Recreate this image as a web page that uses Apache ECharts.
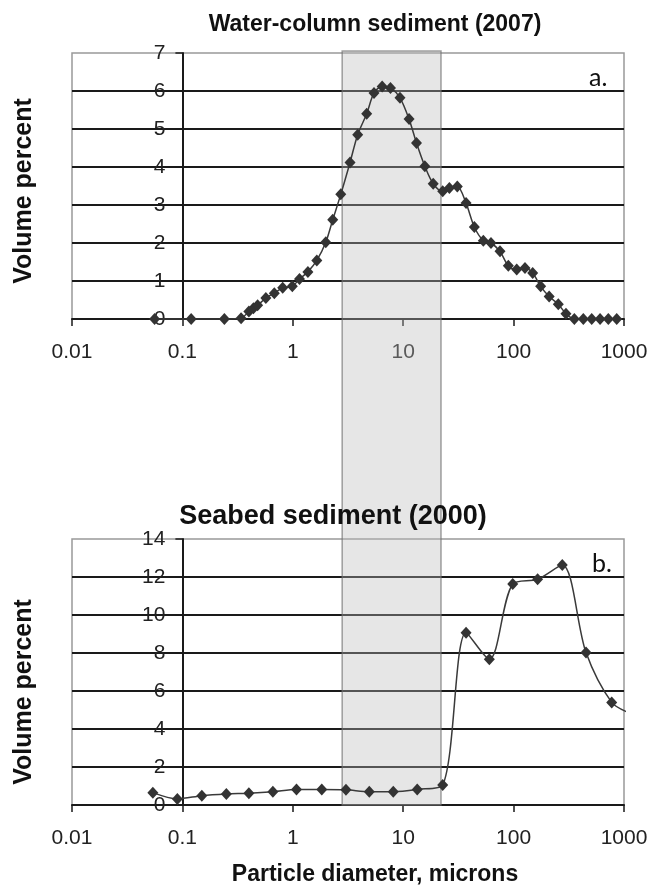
<!DOCTYPE html>
<html>
<head>
<meta charset="utf-8">
<script src="https://cdn.jsdelivr.net/npm/echarts@6/dist/echarts.min.js"></script>
<style>
  html, body { margin: 0; padding: 0; background: #fff; }
  #chart { width: 660px; height: 888px; }
</style>
</head>
<body>
<div id="chart"></div>
<script>
// Particle size distributions: volume percent in each size bin, diameter in microns.
const waterDiameters = [0.056, 0.12, 0.24, 0.34, 0.40, 0.44, 0.48, 0.57, 0.68, 0.81,
  0.99, 1.15, 1.37, 1.65, 1.99, 2.3, 2.72, 3.3, 3.87, 4.67,
  5.44, 6.45, 7.67, 9.35, 11.3, 13.2, 15.7, 18.7, 22.8, 26.2,
  30.9, 37.1, 44.1, 53.2, 62.4, 75.3, 89.6, 106.7, 126.8, 148.9,
  175.8, 210, 254, 298, 355, 428, 510, 607, 721, 859];
const waterVolume = [0, 0, 0, 0.02, 0.2, 0.28, 0.36, 0.55, 0.68, 0.82,
  0.86, 1.05, 1.24, 1.54, 2.02, 2.61, 3.28, 4.12, 4.85, 5.4,
  5.95, 6.12, 6.08, 5.82, 5.26, 4.63, 4.02, 3.56, 3.36, 3.45,
  3.49, 3.05, 2.42, 2.06, 2.0, 1.78, 1.40, 1.30, 1.34, 1.21,
  0.86, 0.59, 0.39, 0.14, 0, 0, 0, 0, 0, 0];

const seabedDiameters = [0.054, 0.09, 0.15, 0.25, 0.40, 0.66, 1.08, 1.83, 3.03, 4.93,
  8.13, 13.4, 22.8, 37.1, 60.3, 98.2, 165, 276, 453, 774, 1175];
const seabedVolume = [0.65, 0.32, 0.49, 0.58, 0.62, 0.70, 0.82, 0.82, 0.80, 0.70,
  0.70, 0.82, 1.05, 9.07, 7.67, 11.63, 11.88, 12.63, 8.02, 5.4, 4.8];

// Size range highlighted across both panels (microns)
const highlightRange = [2.8, 22];

const xTickLabels = ['0.01', '0.1', '1', '10', '100', '1000'];
const xRange = [0.01, 1000];
const yAxisCrossing = 0.1;   // vertical axis sits at this diameter

const FONT = 'Liberation Sans, Arial, sans-serif';
const INK = '#1a1a1a';
const gridLeft = 72, gridRight = 36;

function pairs(xs, ys, xMax) {
  return xs.map((x, i) => x > xMax
    ? { value: [x, ys[i]], symbol: 'none' }
    : [x, ys[i]]);
}

function logXAxis(gridIndex, extra) {
  return Object.assign({
    type: 'log', logBase: 10, gridIndex,
    min: xRange[0], max: xRange[1],
    axisLine: { show: true, lineStyle: { color: INK, width: 2 } },
    axisTick: { show: true, length: 7, lineStyle: { color: INK, width: 1.5 } },
    minorTick: { show: false },
    splitLine: { show: false },
    axisLabel: {
      fontFamily: FONT, fontSize: 21, color: '#222', margin: 23,
      formatter: v => {
        const k = Math.round(Math.log10(v)) + 2;
        return xTickLabels[k] !== undefined ? xTickLabels[k] : String(v);
      }
    }
  }, extra || {});
}

function valueYAxis(gridIndex, max, interval) {
  return {
    type: 'value', gridIndex, min: 0, max, interval,
    axisLine: { show: true, lineStyle: { color: INK, width: 2 } },
    axisTick: { show: true, length: 7, inside: false, lineStyle: { color: INK, width: 1.5 } },
    axisLabel: { fontFamily: FONT, fontSize: 21, color: '#222', margin: 17 },
    splitLine: { show: true, showMaxLine: false, lineStyle: { color: INK, width: 2 } }
  };
}

const distStyle = {
  type: 'line', smooth: 0.3, clip: false,
  symbol: 'diamond', symbolSize: [11, 12],
  lineStyle: { color: '#3a3a3a', width: 1.5 },
  itemStyle: { color: '#333' },
  z: 3
};

const option = {
  animation: false,
  backgroundColor: '#fff',
  title: [
    { text: 'Water-column sediment (2007)', left: 370, top: 8, textAlign: 'center',
      textStyle: { fontFamily: FONT, fontWeight: 'bold', fontSize: 23, color: '#111' } },
    { text: 'Seabed sediment (2000)', left: 328, top: 498, textAlign: 'center',
      textStyle: { fontFamily: FONT, fontWeight: 'bold', fontSize: 27, color: '#111' } },
    { text: 'a.', left: 584, top: 60,
      textStyle: { fontFamily: 'Lato, sans-serif', fontWeight: 'normal', fontSize: 25, color: '#111' } },
    { text: 'b.', left: 587, top: 546,
      textStyle: { fontFamily: 'Lato, sans-serif', fontWeight: 'normal', fontSize: 25, color: '#111' } }
  ],
  grid: [
    { left: gridLeft, right: gridRight, top: 53, height: 266,
      show: true, borderColor: '#999', borderWidth: 1.5, backgroundColor: 'transparent' },
    { left: gridLeft, right: gridRight, top: 539, height: 266,
      show: true, borderColor: '#999', borderWidth: 1.5, backgroundColor: 'transparent' },
    // spans both panels so the highlighted size range runs through them
    { left: gridLeft, right: gridRight, top: 51, bottom: 83 }
  ],
  xAxis: [
    logXAxis(0),
    logXAxis(1, {
      name: 'Particle diameter, microns', nameLocation: 'middle', nameGap: 58,
      nameTextStyle: { fontFamily: FONT, fontWeight: 'bold', fontSize: 23, color: '#111', padding: [0, 0, 0, 54] }
    }),
    { type: 'log', logBase: 10, gridIndex: 2, min: xRange[0], max: xRange[1], show: false }
  ],
  yAxis: [
    valueYAxis(0, 7, 1),
    valueYAxis(1, 14, 2),
    { type: 'value', gridIndex: 2, min: 0, max: 1, show: false }
  ],
  graphic: [
    { type: 'text', x: 24, y: 191, rotation: Math.PI / 2,
      style: { text: 'Volume percent', fontFamily: FONT, fontWeight: 'bold', fontSize: 25,
               fill: '#111', textAlign: 'center', textVerticalAlign: 'middle' } },
    { type: 'text', x: 24, y: 692, rotation: Math.PI / 2,
      style: { text: 'Volume percent', fontFamily: FONT, fontWeight: 'bold', fontSize: 25,
               fill: '#111', textAlign: 'center', textVerticalAlign: 'middle' } }
  ],
  series: [
    Object.assign({ name: 'Water-column sediment (2007)', xAxisIndex: 0, yAxisIndex: 0,
      data: pairs(waterDiameters, waterVolume, xRange[1]) }, distStyle),
    Object.assign({ name: 'Seabed sediment (2000)', xAxisIndex: 1, yAxisIndex: 1,
      data: pairs(seabedDiameters, seabedVolume, xRange[1]) }, distStyle),
    {
      name: 'highlight', type: 'line', xAxisIndex: 2, yAxisIndex: 2,
      data: highlightRange.map(d => [d, 0]),
      showSymbol: false, lineStyle: { width: 0, opacity: 0 }, silent: true, z: 5,
      markArea: {
        silent: true,
        itemStyle: { color: 'rgba(188,188,188,0.37)', borderColor: 'rgba(110,110,110,0.65)', borderWidth: 1.5 },
        data: [[{ xAxis: highlightRange[0] }, { xAxis: highlightRange[1] }]]
      }
    }
  ]
};

const chart = echarts.init(document.getElementById('chart'), null, { renderer: 'canvas' });
chart.setOption(option);

// Move each vertical axis inward so it crosses the diameter axis at yAxisCrossing.
const crossTop = chart.convertToPixel({ gridIndex: 0 }, [yAxisCrossing, 0])[0];
const crossBottom = chart.convertToPixel({ gridIndex: 1 }, [yAxisCrossing, 0])[0];
chart.setOption({
  yAxis: [
    { offset: gridLeft - crossTop },
    { offset: gridLeft - crossBottom },
    {}
  ]
});
</script>
</body>
</html>
